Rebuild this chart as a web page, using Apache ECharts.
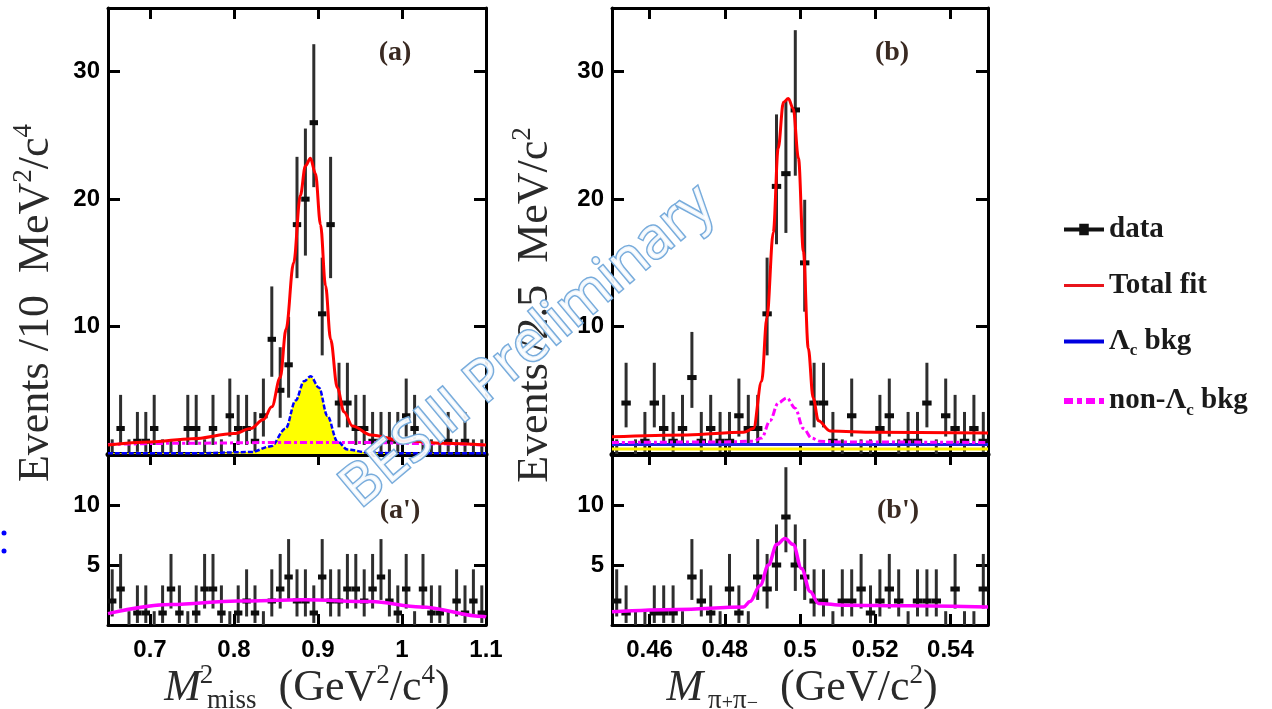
<!DOCTYPE html>
<html lang="en">
<head>
<meta charset="UTF-8">
<title>BESIII fit</title>
<script src="https://cdn.jsdelivr.net/npm/echarts@6/dist/echarts.min.js"></script>
<style>
  html, body { margin: 0; background: #fff; }
  #main { width: 1272px; height: 709px; }
</style>
</head>
<body>
<div id="main"></div>
<script>
// bin centres
const massA = [0.655,0.665,0.675,0.685,0.695,0.705,0.715,0.725,0.735,0.745,0.755,0.765,0.775,0.785,0.795,
  0.805,0.815,0.825,0.835,0.845,0.855,0.865,0.875,0.885,0.895,0.905,0.915,0.925,0.935,0.945,
  0.955,0.965,0.975,0.985,0.995,1.005,1.015,1.025,1.035,1.045,1.055,1.065,1.075,1.085,1.095];
const massB = [0.45125,0.45375,0.45625,0.45875,0.46125,0.46375,0.46625,0.46875,0.47125,0.47375,
  0.47625,0.47875,0.48125,0.48375,0.48625,0.48875,0.49125,0.49375,0.49625,0.49875,
  0.50125,0.50375,0.50625,0.50875,0.51125,0.51375,0.51625,0.51875,0.52125,0.52375,
  0.52625,0.52875,0.53125,0.53375,0.53625,0.53875,0.54125,0.54375,0.54625,0.54875];

// event counts
const countsA  = [0,2,0,1,1,2,0,0,0,2, 2,0,2,0,3,2,2,1,3,9, 5,7,18,20,26,11,18,4,4,2, 2,1,1,1,1,3,2,0,0,0, 1,0,1,0,0];
const countsA2 = [2,3,0,1,1,0,1,3,1,0, 1,3,3,1,0,1,2,1,0,2, 3,4,2,2,1,4,2,2,3,3, 2,3,4,2,1,3,0,3,1,1, 0,2,1,2,1];
const countsB  = [0,4,0,1,4,2,1,2,6,1, 2,1,1,3,2,2,11,21,22,27, 15,4,4,1,0,3,0,0,2,3, 0,1,1,4,0,3,2,1,2,1];
const countsB2 = [2,1,0,0,1,1,1,0,4,2, 1,0,3,1,0,4,3,5,9,5, 4,2,2,0,2,2,3,1,2,3, 2,0,2,2,2,0,3,0,0,3];

// error bar extent [low, high] for each count
const poissonBand = {0:[0,1.15],1:[0.17,3.30],2:[0.71,4.64],3:[1.37,5.92],4:[2.09,7.16],5:[2.84,8.38],
  6:[3.62,9.58],7:[4.42,10.77],9:[6.06,13.15],11:[7.74,15.41],15:[11.17,19.95],18:[13.80,23.32],
  20:[15.57,25.54],21:[16.46,26.65],22:[17.35,27.76],26:[20.94,32.16],27:[21.84,33.26]};

// fit curves (a)
const fitAx = [0.65,0.70,0.75,0.80,0.82,0.835,0.845,0.855,0.862,0.871,0.879,0.885,0.891,0.897,0.903,0.909,0.915,0.923,0.931,0.941,0.963,1.0,1.05,1.1];
const fitAy = [0.7,0.95,1.2,1.6,2.0,2.7,3.7,6.0,9.8,15.0,20.3,22.6,23.2,22.0,18.0,13.2,9.0,5.2,3.3,2.2,1.5,1.05,0.85,0.7];
const lamAx = [0.65,0.75,0.82,0.844,0.8615,0.8734,0.8833,0.8913,0.9012,0.9111,0.923,0.935,0.96,1.0,1.1];
const lamAy = [0.05,0.05,0.15,0.6,2.0,4.2,5.7,6.1,5.2,3.0,1.0,0.35,0.1,0.05,0.05];
const nonAx = [0.65,0.75,0.85,0.95,1.05,1.1];
const nonAy = [0.75,0.85,0.9,0.9,0.8,0.7];
const botAx = [0.65,0.7246,0.804,0.8833,0.9627,1.0222,1.0976,1.1];
const botAy = [0.95,1.7,2.0,2.1,1.95,1.5,0.7,0.65];

// fit curves (b)
const fitBx = [0.45,0.47,0.485,0.4876,0.4898,0.4912,0.4929,0.4942,0.4956,0.4969,0.4982,0.4996,0.5009,0.5022,0.5035,0.5049,0.508,0.52,0.55];
const fitBy = [1.35,1.5,1.7,2.0,5.7,10.7,17.4,24.0,27.6,27.9,27.1,23.2,15.9,8.3,4.4,2.6,1.8,1.7,1.65];
const nonBx = [0.45,0.48,0.4876,0.4898,0.492,0.4942,0.4965,0.4987,0.5009,0.5031,0.5053,0.51,0.55];
const nonBy = [0.9,0.95,1.0,1.25,2.6,4.0,4.4,3.6,2.0,1.25,1.0,0.95,0.9];
const lamBx = [0.45,0.55];
const lamBy = [0.75,0.75];
const sigBx = [0.45,0.55];
const sigBy = [0.4,0.4];
const botBx = [0.45,0.4673,0.485,0.4867,0.4894,0.4916,0.4938,0.496,0.4982,0.5004,0.5027,0.5049,0.5116,0.5292,0.55];
const botBy = [1.1,1.3,1.5,1.95,3.3,5.0,6.7,7.2,6.7,4.7,2.8,1.8,1.65,1.6,1.5];

const ticksA = [0.7,0.8,0.9,1.0,1.1];
const ticksB = [0.46,0.48,0.5,0.52,0.54];
const ticksTop = [10,20,30];
const ticksBot = [5,10];

const pairs = (xs, ys) => xs.map((x, i) => [x, ys[i]]);

function errorBars(binWidth) {
    return function (params, api) {
        const x = api.value(0), n = api.value(1);
        const band = poissonBand[n];
        const c = api.coord([x, n]);
        const lo = api.coord([x, band[0]]);
        const hi = api.coord([x, band[1]]);
        const w = api.size([binWidth, 0])[0];
        const kids = [{type: 'line', shape: {x1: c[0], y1: lo[1], x2: c[0], y2: hi[1]},
                       style: {stroke: '#2e2e2e', lineWidth: 3}}];
        if (n > 0) {
            kids.push({type: 'rect', shape: {x: c[0] - w / 2, y: c[1] - 2.5, width: w, height: 5},
                       style: {fill: '#0d0d0d'}});
        }
        return {type: 'group', children: kids};
    };
}

const labelFont = {fontFamily: 'Liberation Sans', fontWeight: 'bold', fontSize: 24, color: '#000'};

function xAx(g, min, max, ticks, pos, labels, lw) {
    return {
        type: 'value', gridIndex: g, min: min, max: max, position: pos,
        axisLine: {show: true, onZero: false, lineStyle: {color: '#000', width: lw}},
        axisTick: {show: true, inside: true, length: 11, customValues: ticks, lineStyle: {color: '#000', width: 3}},
        axisLabel: Object.assign({show: labels, customValues: ticks, margin: 13,
                                  formatter: v => String(+v.toFixed(2))}, labelFont),
        splitLine: {show: false}
    };
}
function yAx(g, max, ticks, pos, labels) {
    return {
        type: 'value', gridIndex: g, min: 0, max: max, position: pos,
        axisLine: {show: true, onZero: false, lineStyle: {color: '#000', width: 3}},
        axisTick: {show: true, inside: true, length: 12, customValues: ticks, lineStyle: {color: '#000', width: 3}},
        axisLabel: Object.assign({show: labels, customValues: ticks, margin: 8}, labelFont),
        splitLine: {show: false}
    };
}

function line(name, xi, xs, ys, color, width, type, z) {
    return {
        name: name, type: 'line', xAxisIndex: xi, yAxisIndex: xi, data: pairs(xs, ys),
        showSymbol: false, symbol: 'none', smooth: 0.35, smoothMonotone: 'x', z: z || 4,
        lineStyle: {color: color, width: width, type: type || 'solid'}, itemStyle: {color: color}
    };
}
function dataSeries(xi, xs, counts, bw) {
    return {
        name: 'data', type: 'custom', xAxisIndex: xi, yAxisIndex: xi, z: 3,
        data: xs.map((x, i) => [x, counts[i]]), encode: {x: 0, y: 1},
        renderItem: errorBars(bw), itemStyle: {color: '#111'}
    };
}

const serif = 'Liberation Serif';
const axisRich = {
    t: {fontFamily: serif, fontSize: 44, fill: '#2a2a2a', lineHeight: 52},
    mi: {fontFamily: serif, fontSize: 44, fontStyle: 'italic', fill: '#2a2a2a', lineHeight: 52, padding: [0, 5, 0, 0]},
    sp: {fontFamily: serif, fontSize: 27, fill: '#2a2a2a', lineHeight: 30, verticalAlign: 'top'},
    sp0: {fontFamily: serif, fontSize: 27, fill: '#2a2a2a', lineHeight: 30, verticalAlign: 'top', width: 1},
    sb: {fontFamily: serif, fontSize: 27, fill: '#2a2a2a', lineHeight: 26, verticalAlign: 'bottom'},
    sbs: {fontFamily: serif, fontSize: 20, fill: '#2a2a2a', lineHeight: 44, verticalAlign: 'bottom'}
};

const chart = echarts.init(document.getElementById('main'));
const option = {
    animation: false,
    backgroundColor: '#fff',
    grid: [
        {left: 108, top: 8, width: 378, height: 446},
        {left: 108, top: 454, width: 378, height: 171},
        {left: 612, top: 8, width: 376, height: 446},
        {left: 612, top: 454, width: 376, height: 171}
    ],
    xAxis: [
        xAx(0, 0.65, 1.1, ticksA, 'bottom', false, 5), xAx(0, 0.65, 1.1, ticksA, 'top', false, 3),
        xAx(1, 0.65, 1.1, ticksA, 'bottom', true, 3), xAx(1, 0.65, 1.1, ticksA, 'top', false, 3),
        xAx(2, 0.45, 0.55, ticksB, 'bottom', false, 5), xAx(2, 0.45, 0.55, ticksB, 'top', false, 3),
        xAx(3, 0.45, 0.55, ticksB, 'bottom', true, 3), xAx(3, 0.45, 0.55, ticksB, 'top', false, 3)
    ],
    yAxis: [
        yAx(0, 35, ticksTop, 'left', true), yAx(0, 35, ticksTop, 'right', false),
        yAx(1, 14.25, ticksBot, 'left', true), yAx(1, 14.25, ticksBot, 'right', false),
        yAx(2, 35, ticksTop, 'left', true), yAx(2, 35, ticksTop, 'right', false),
        yAx(3, 14.25, ticksBot, 'left', true), yAx(3, 14.25, ticksBot, 'right', false)
    ],
    legend: {
        orient: 'vertical', left: 1056, top: 210, itemGap: 27, itemWidth: 40, itemHeight: 14,
        selectedMode: false,
        data: [
            {name: 'data', icon: 'path://M0,5 H42 V9 H0 Z M16,1 H26 V13 H16 Z', itemStyle: {color: '#111'}},
            {name: 'Total fit', itemStyle: {opacity: 0}, lineStyle: {color: '#e8141b', width: 3, type: 'solid'}},
            {name: 'Λc bkg', itemStyle: {opacity: 0}, lineStyle: {color: '#0000e0', width: 4, type: 'solid'}},
            {name: 'non-Λc bkg', itemStyle: {opacity: 0}, lineStyle: {color: '#ff00ff', width: 6, type: [9, 4, 5, 4]}}
        ],
        formatter: name => ({
            'data': '{t|data}', 'Total fit': '{t|Total fit}',
            'Λc bkg': '{t|Λ}{s|c}{t| bkg}', 'non-Λc bkg': '{t|non-Λ}{s|c}{t| bkg}'
        })[name],
        textStyle: {
            rich: {
                t: {fontFamily: serif, fontWeight: 'bold', fontSize: 29, color: '#1a1a1a', lineHeight: 36},
                s: {fontFamily: serif, fontWeight: 'bold', fontSize: 17, color: '#1a1a1a', lineHeight: 18, verticalAlign: 'bottom'}
            }
        }
    },
    series: [
        dataSeries(0, massA, countsA, 0.01),
        dataSeries(2, massA, countsA2, 0.01),
        dataSeries(4, massB, countsB, 0.0025),
        dataSeries(6, massB, countsB2, 0.0025),
        Object.assign(line('Λc bkg', 0, lamAx, lamAy, '#0000ff', 2.5, [5, 2], 4),
                      {areaStyle: {color: '#ffff00', opacity: 1}}),
        line('non-Λc bkg', 0, nonAx, nonAy, '#ff00ff', 3, [7, 3, 3, 3], 5),
        line('Total fit', 0, fitAx, fitAy, '#ff0000', 3, 'solid', 6),
        line('signal', 4, sigBx, sigBy, '#ffee00', 3, 'solid', 4),
        line('Λc bkg', 4, lamBx, lamBy, '#2020e0', 3, 'solid', 4),
        line('non-Λc bkg', 4, nonBx, nonBy, '#ff00ff', 3, [7, 3, 3, 3], 5),
        line('Total fit', 4, fitBx, fitBy, '#ff0000', 3, 'solid', 6),
        line('bkg', 2, botAx, botAy, '#ff00ff', 3.5, 'solid', 5),
        line('bkg', 6, botBx, botBy, '#ff00ff', 3.5, 'solid', 5)
    ],
    graphic: [
        {type: 'text', x: 36, y: 303, rotation: Math.PI / 2, z: 10,
         style: {text: '{t|Events /10  MeV}{sp|2}{t|/c}{sp|4}', rich: axisRich, align: 'center', verticalAlign: 'middle'}},
        {type: 'text', x: 535, y: 305, rotation: Math.PI / 2, z: 10,
         style: {text: '{t|Events /2.5  MeV/c}{sp|2}', rich: axisRich, align: 'center', verticalAlign: 'middle'}},
        {type: 'text', x: 307, y: 688, z: 10,
         style: {text: '{mi|M}{sp0|2}{sb|miss}{t|  (GeV}{sp|2}{t|/c}{sp|4}{t|)}', rich: axisRich, align: 'center', verticalAlign: 'middle'}},
        {type: 'text', x: 802, y: 688, z: 10,
         style: {text: '{mi|M}{sb|π}{sbs|+}{sb|π}{sbs|−}{t|  (GeV/c}{sp|2}{t|)}', rich: axisRich, align: 'center', verticalAlign: 'middle'}},
        {type: 'text', x: 395, y: 53, z: 10, style: {text: '(a)', font: 'bold 28px "Liberation Serif"', fill: '#3a2a22', align: 'center', verticalAlign: 'middle'}},
        {type: 'text', x: 892, y: 53, z: 10, style: {text: '(b)', font: 'bold 28px "Liberation Serif"', fill: '#3a2a22', align: 'center', verticalAlign: 'middle'}},
        {type: 'text', x: 400, y: 511, z: 10, style: {text: "(a')", font: 'bold 28px "Liberation Serif"', fill: '#3a2a22', align: 'center', verticalAlign: 'middle'}},
        {type: 'text', x: 898, y: 511, z: 10, style: {text: "(b')", font: 'bold 28px "Liberation Serif"', fill: '#3a2a22', align: 'center', verticalAlign: 'middle'}},
        {type: 'text', x: 528, y: 347, rotation: 40 * Math.PI / 180, z: 20,
         style: {text: 'BESIII Preliminary', font: '57px "Open Sans"', fill: 'rgba(255,255,255,0.9)',
                 stroke: '#78acdc', lineWidth: 3, align: 'center', verticalAlign: 'middle',
                 shadowColor: 'rgba(0,0,0,0.2)', shadowBlur: 2, shadowOffsetX: 2, shadowOffsetY: 2}},
        {type: 'circle', shape: {cx: 4, cy: 533, r: 2.5}, style: {fill: '#0000ff'}},
        {type: 'circle', shape: {cx: 4, cy: 551, r: 2.5}, style: {fill: '#0000ff'}}
    ]
};
chart.setOption(option);
</script>
</body>
</html>
